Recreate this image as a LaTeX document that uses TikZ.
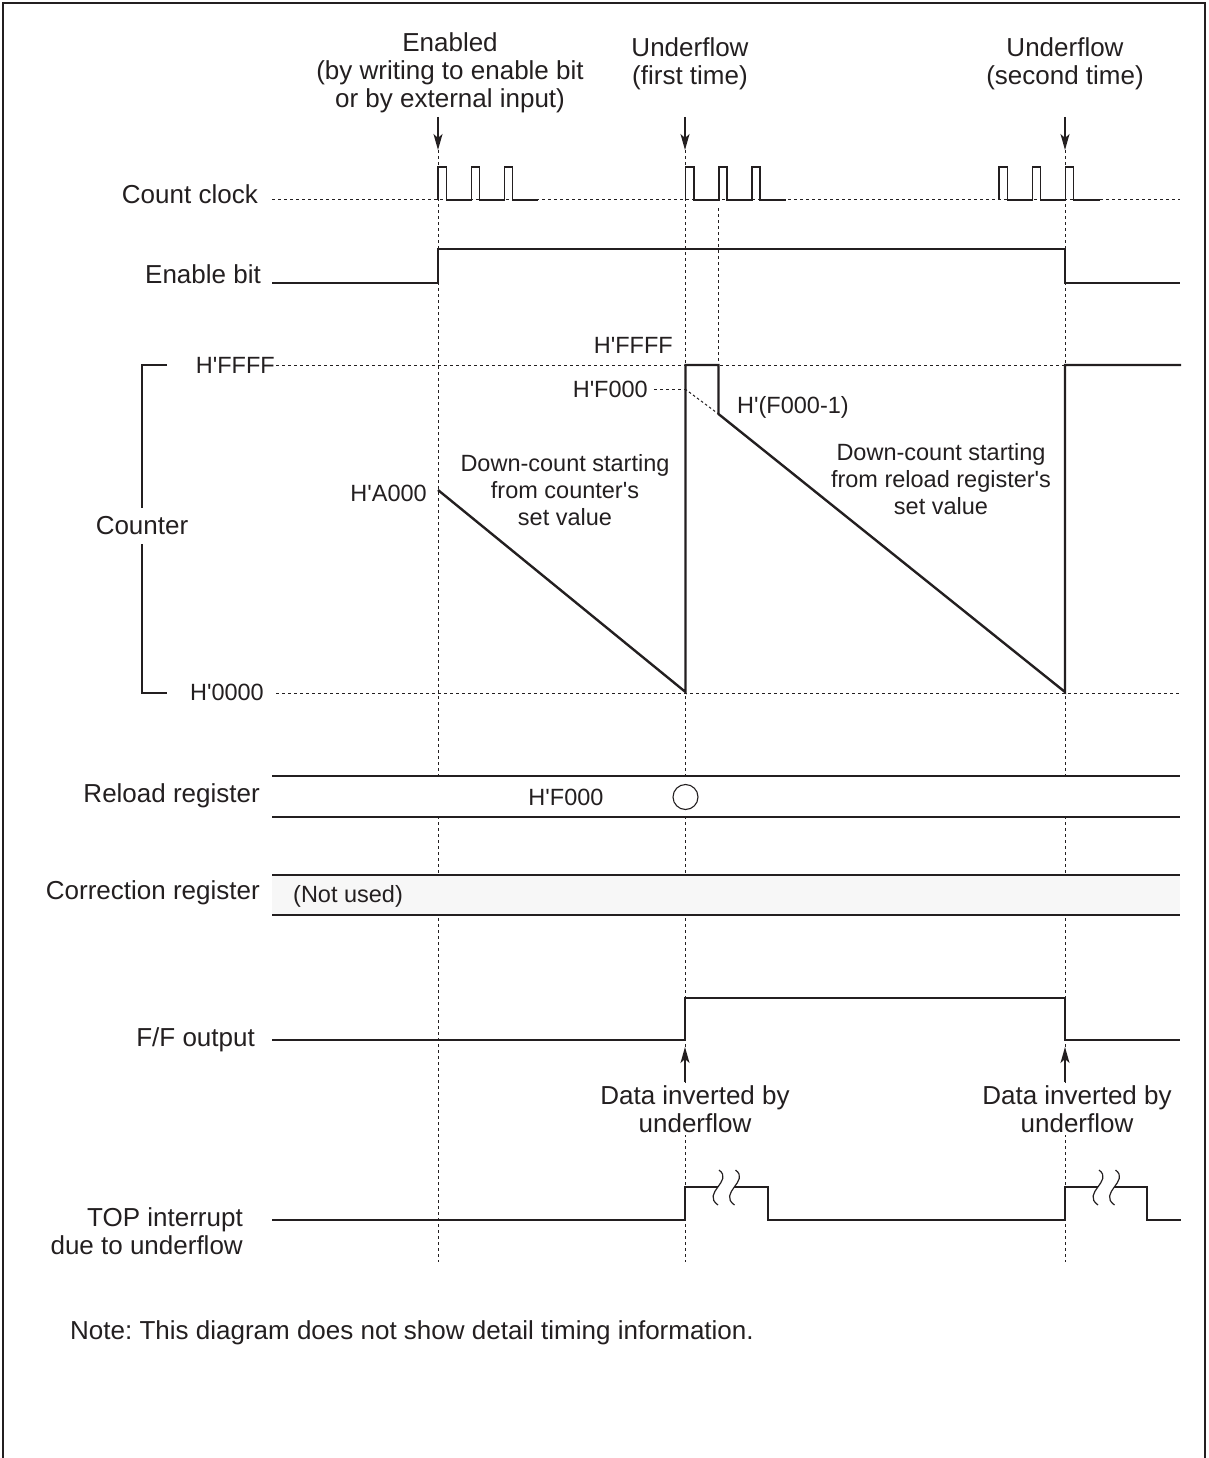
\documentclass[tikz,border=0pt]{standalone}
\usepackage{fontspec}
\setmainfont{Liberation Sans}[Ligatures=TeXOff]
\usetikzlibrary{arrows.meta}
\definecolor{ink}{RGB}{35,31,32}
\definecolor{band}{RGB}{247,247,247}
\begin{document}
\frenchspacing
\begin{tikzpicture}[x=1pt,y=-1pt,
  txt/.style={inner sep=0pt, text=ink, font=\fontsize{26}{28}\selectfont},
  stxt/.style={inner sep=0pt, text=ink, font=\fontsize{23.5}{27}\selectfont},
  wtxt/.style={txt, fill=white, inner sep=2pt},
  wave/.style={draw=ink, line width=1.5pt, line join=miter},
  cnt/.style={draw=ink, line width=2.4pt, line join=miter},
  guide/.style={draw=ink, line width=1pt, dash pattern=on 3pt off 3pt},
  thin/.style={draw=ink, line width=1.2pt},
  evarrow/.style={draw=ink, line width=1.4pt, -{Stealth[length=16pt,width=9pt,inset=4pt]}},
  squig/.style={draw=ink, line width=1.2pt}]
\useasboundingbox (0,0) rectangle (1208,1458);
% frame
\draw[draw=ink, line width=1.6pt] (3,1458) -- (3,3) -- (1205,3) -- (1205,1458);

% ---------- event guides ----------
\draw[guide] (438,150) -- (438,1262);
\draw[guide] (685,150) -- (685,1262);
\draw[guide] (1065,150) -- (1065,1262);
\draw[guide] (718.5,208) -- (718.5,365);

% ---------- header texts and arrows ----------
\node[txt, align=center] (en) at (450,73) {Enabled\\(by writing to enable bit\\or by external input)};
\node[txt, align=center] (uf1) at (690,64) {Underflow\\(first time)};
\node[txt, align=center] (uf2) at (1065,64) {Underflow\\(second time)};
\coordinate (a1s) at (438,117); \coordinate (a1e) at (438,150);
\coordinate (a2s) at (685,117); \coordinate (a2e) at (685,150);
\coordinate (a3s) at (1065,117); \coordinate (a3e) at (1065,150);
\draw[evarrow] (a1s) -- (a1e);
\draw[evarrow] (a2s) -- (a2e);
\draw[evarrow] (a3s) -- (a3e);

% ---------- count clock ----------
\node[txt, anchor=east] (lcc) at (258,194) {Count clock};
\draw[guide] (272,200) -- (1180,200);
\draw[wave] (438,200) -- (438,167) -- (446.5,167) -- (446.5,200) -- (471.5,200) -- (471.5,167) -- (479.5,167) -- (479.5,200)
  -- (504.5,200) -- (504.5,167) -- (512.5,167) -- (512.5,200) -- (538,200);
\draw[wave] (685.5,200) -- (685.5,167) -- (694,167) -- (694,200) -- (719,200) -- (719,167) -- (727,167) -- (727,200)
  -- (752,200) -- (752,167) -- (760,167) -- (760,200) -- (786,200);
\draw[wave] (999,200) -- (999,167) -- (1007.3,167) -- (1007.3,200) -- (1032.3,200) -- (1032.3,167) -- (1040.3,167) -- (1040.3,200)
  -- (1065.3,200) -- (1065.3,167) -- (1073.3,167) -- (1073.3,200) -- (1100,200);

% ---------- enable bit ----------
\node[txt, anchor=east] (leb) at (261,274) {Enable bit};
\draw[wave] (272,283) -- (438,283) -- (438,249) -- (1065,249) -- (1065,283) -- (1180,283);

% ---------- counter ----------
\node[txt] (lct) at (142,526) {Counter};
\draw[thin] (167,365) -- (142,365) -- (142,508);
\draw[thin] (142,544) -- (142,693) -- (167,693);
\node[stxt, anchor=east] (lff) at (275,365) {H'FFFF};
\node[stxt, anchor=east] (l00) at (264,692) {H'0000};
\draw[guide] (276,365) -- (1180,365);
\draw[guide] (276,693) -- (1180,693);
\node[stxt, anchor=east] (la0) at (427,493) {H'A000};
\node[stxt, anchor=east] (lff2) at (673,345) {H'FFFF};
\node[stxt, anchor=east] (lf0) at (648,389) {H'F000};
\node[stxt, anchor=west] (lf1) at (737,407) {H'(F000-1)};
\draw[guide] (654,389) -- (685,389);
\draw[draw=ink, line width=1pt, dash pattern=on 2.5pt off 2.5pt] (685,389) -- (718.5,414);
\draw[cnt] (438,490) -- (685.5,692) -- (685.5,365) -- (718.5,365) -- (718.5,414) -- (1065,692) -- (1065,365) -- (1181,365);
\node[stxt, align=center] (dc1) at (565,490) {Down-count starting\\from counter's\\set value};
\node[stxt, align=center] (dc2) at (941,479) {Down-count starting\\from reload register's\\set value};

% ---------- reload register ----------
\node[txt, anchor=east] (lrr) at (260,796) {Reload register};
\fill[white] (272,776) rectangle (1180,817);
\draw[thin] (272,776) -- (1180,776);
\draw[thin] (272,817) -- (1180,817);
\node[stxt] (rv) at (566,797) {H'F000};
\node[draw=ink, line width=1.1pt, circle, minimum size=25pt, inner sep=0pt, fill=white] (rc) at (685.5,797) {};

% ---------- correction register ----------
\node[txt, anchor=east] (lcr) at (260,893) {Correction register};
\fill[band] (272,875) rectangle (1180,915);
\draw[thin] (272,875) -- (1180,875);
\draw[thin] (272,915) -- (1180,915);
\node[stxt, anchor=west] (nu) at (293,896) {(Not used)};

% ---------- F/F output ----------
\node[txt, anchor=east] (lfo) at (255,1040) {F/F output};
\draw[wave] (272,1040) -- (685,1040) -- (685,998) -- (1065,998) -- (1065,1040) -- (1180,1040);
\node[wtxt, align=center] (di1) at (695,1109) {Data inverted by\\underflow};
\node[wtxt, align=center] (di2) at (1077,1109) {Data inverted by\\underflow};
\coordinate (b1s) at (685,1082); \coordinate (b1e) at (685,1047);
\coordinate (b2s) at (1065,1082); \coordinate (b2e) at (1065,1047);
\draw[evarrow] (b1s) -- (b1e);
\draw[evarrow] (b2s) -- (b2e);

% ---------- TOP interrupt ----------
\node[txt, anchor=east, align=right] (ltop) at (243,1231) {TOP interrupt\\due to underflow};
\draw[wave] (272,1220) -- (685,1220) -- (685,1187) -- (717.5,1187);
\draw[wave] (734,1187) -- (768,1187) -- (768,1220) -- (1065,1220) -- (1065,1187) -- (1097.5,1187);
\draw[wave] (1114,1187) -- (1147,1187) -- (1147,1220) -- (1181,1220);
\draw[squig] (719,1170) .. controls (734,1181) and (701,1193) .. (718,1205);
\draw[squig] (735.5,1170) .. controls (750.5,1181) and (717.5,1193) .. (734.5,1205);
\draw[squig] (1099,1170) .. controls (1114,1181) and (1081,1193) .. (1098,1205);
\draw[squig] (1115.5,1170) .. controls (1130.5,1181) and (1097.5,1193) .. (1114.5,1205);

% ---------- note ----------
\node[txt, anchor=west] (note) at (70,1333) {Note: This diagram does not show detail timing information.};
\end{tikzpicture}
\end{document}
